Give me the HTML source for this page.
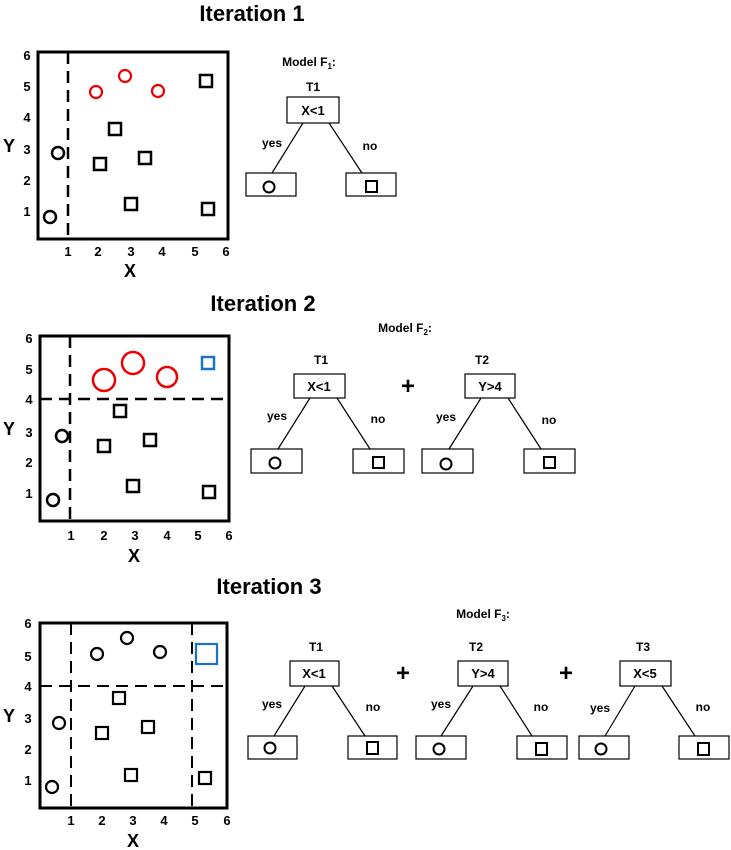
<!DOCTYPE html>
<html><head><meta charset="utf-8"><style>
html,body{margin:0;padding:0;background:#fff;}
svg{display:block;font-family:"Liberation Sans",sans-serif;}
.t{font-weight:bold;font-size:22px;text-anchor:middle;}
.tk{font-weight:bold;font-size:13px;text-anchor:middle;}
.ax{font-weight:bold;font-size:18px;text-anchor:middle;}
.lb{font-weight:bold;font-size:12px;text-anchor:middle;}
.pl{font-weight:bold;font-size:24px;text-anchor:middle;}
</style></head><body>
<svg width="731" height="850" viewBox="0 0 731 850" xmlns="http://www.w3.org/2000/svg">
<g fill="none" stroke="#000">
<!-- Iteration 1 plot -->
<rect x="38" y="52" width="190" height="187" stroke-width="3"/>
<line x1="68" y1="52" x2="68" y2="239" stroke-width="2.5" stroke-dasharray="12,7"/>
<g stroke="#e00" stroke-width="2.2"><circle cx="96" cy="92" r="6"/><circle cx="125" cy="76" r="6"/><circle cx="158" cy="91" r="6"/></g>
<g stroke-width="2.5"><rect x="200" y="75" width="12" height="12"/><rect x="109" y="123" width="12" height="12"/><rect x="94" y="158" width="12" height="12"/><rect x="139" y="152" width="12" height="12"/><rect x="125" y="198" width="12" height="12"/><rect x="202" y="203" width="12" height="12"/>
<circle cx="58" cy="153" r="6"/><circle cx="50" cy="217" r="6"/></g>
<!-- Iteration 1 tree -->
<g stroke-width="1.2"><rect x="287" y="97" width="52" height="26"/><rect x="246" y="173" width="50" height="23"/><rect x="346" y="173" width="50" height="23"/>
<line x1="303" y1="123" x2="272" y2="173"/><line x1="329" y1="123" x2="362" y2="173"/></g>
<g stroke-width="2"><circle cx="269" cy="187" r="5.5"/><rect x="366" y="181" width="11" height="11"/></g>

<!-- Iteration 2 plot -->
<rect x="40" y="336" width="189" height="185" stroke-width="3"/>
<line x1="70" y1="336" x2="70" y2="521" stroke-width="2.5" stroke-dasharray="12,7"/>
<line x1="40" y1="399" x2="229" y2="399" stroke-width="2.5" stroke-dasharray="12,7"/>
<g stroke="#e00" stroke-width="2.5"><circle cx="104" cy="380" r="11"/><circle cx="133" cy="363" r="11"/><circle cx="167" cy="377" r="10"/></g>
<rect x="202" y="357" width="12" height="12" stroke="#1a73c8" stroke-width="2.5"/>
<g stroke-width="2.5"><rect x="114" y="405" width="12" height="12"/><rect x="98" y="440" width="12" height="12"/><rect x="144" y="434" width="12" height="12"/><rect x="127" y="480" width="12" height="12"/><rect x="203" y="486" width="12" height="12"/>
<circle cx="62" cy="436" r="6"/><circle cx="53" cy="500" r="6"/></g>
<!-- Iteration 2 trees -->
<g stroke-width="1.2"><rect x="294" y="374" width="51" height="24"/><rect x="251" y="449" width="51" height="24"/><rect x="353" y="449" width="51" height="24"/>
<line x1="310" y1="398" x2="278" y2="449"/><line x1="337" y1="398" x2="370" y2="449"/>
<rect x="465" y="374" width="50" height="24"/><rect x="422" y="449" width="51" height="24"/><rect x="524" y="449" width="51" height="24"/>
<line x1="481" y1="398" x2="449" y2="449"/><line x1="508" y1="398" x2="541" y2="449"/></g>
<g stroke-width="2"><circle cx="275" cy="463" r="5.5"/><rect x="373" y="457" width="11" height="11"/><circle cx="446" cy="464" r="5.5"/><rect x="544" y="457" width="11" height="11"/></g>

<!-- Iteration 3 plot -->
<rect x="40" y="623" width="187" height="185" stroke-width="3"/>
<line x1="71" y1="623" x2="71" y2="808" stroke-width="2" stroke-dasharray="12,7"/>
<line x1="192" y1="623" x2="192" y2="808" stroke-width="2" stroke-dasharray="12,7"/>
<line x1="40" y1="686" x2="227" y2="686" stroke-width="2" stroke-dasharray="12,7"/>
<rect x="196" y="644" width="21" height="20" stroke="#1a73c8" stroke-width="2.2"/>
<g stroke-width="2.2"><circle cx="97" cy="654" r="6"/><circle cx="127" cy="638" r="6"/><circle cx="160" cy="652" r="6"/><circle cx="59" cy="723" r="6"/><circle cx="52" cy="787" r="6"/>
<rect x="113" y="692" width="12" height="12"/><rect x="96" y="727" width="12" height="12"/><rect x="142" y="721" width="12" height="12"/><rect x="125" y="769" width="12" height="12"/><rect x="199" y="772" width="12" height="12"/></g>
<!-- Iteration 3 trees -->
<g stroke-width="1.2">
<rect x="290" y="661" width="49" height="25"/><rect x="248" y="736" width="49" height="23"/><rect x="348" y="736" width="49" height="23"/>
<line x1="305" y1="686" x2="274" y2="736"/><line x1="332" y1="686" x2="365" y2="736"/>
<rect x="458" y="661" width="50" height="25"/><rect x="416" y="736" width="50" height="23"/><rect x="517" y="736" width="50" height="23"/>
<line x1="473" y1="686" x2="441" y2="736"/><line x1="500" y1="686" x2="532" y2="736"/>
<rect x="620" y="661" width="51" height="25"/><rect x="579" y="736" width="50" height="23"/><rect x="679" y="736" width="50" height="23"/>
<line x1="635" y1="686" x2="605" y2="736"/><line x1="662" y1="686" x2="695" y2="736"/></g>
<g stroke-width="2"><circle cx="270" cy="748" r="5.5"/><rect x="367" y="742" width="11" height="12"/><circle cx="439" cy="749" r="5.5"/><rect x="536" y="743" width="11" height="12"/><circle cx="601" cy="749" r="5.5"/><rect x="698" y="743" width="11" height="12"/></g>
</g>

<!-- Text -->
<text class="t" x="252" y="21">Iteration 1</text>
<text class="t" x="263" y="311">Iteration 2</text>
<text class="t" x="269" y="594">Iteration 3</text>

<g class="tk">
<text x="27" y="60">6</text><text x="27" y="91">5</text><text x="27" y="122">4</text><text x="27" y="154">3</text><text x="27" y="185">2</text><text x="27" y="216">1</text>
<text x="68" y="256">1</text><text x="98" y="256">2</text><text x="131" y="256">3</text><text x="162" y="256">4</text><text x="195" y="256">5</text><text x="226" y="256">6</text>
<text x="29" y="343">6</text><text x="29" y="374">5</text><text x="29" y="404">4</text><text x="29" y="437">3</text><text x="29" y="467">2</text><text x="29" y="498">1</text>
<text x="71" y="540">1</text><text x="104" y="540">2</text><text x="135" y="540">3</text><text x="167" y="540">4</text><text x="198" y="540">5</text><text x="229" y="540">6</text>
<text x="28" y="628">6</text><text x="28" y="661">5</text><text x="28" y="691">4</text><text x="28" y="723">3</text><text x="28" y="754">2</text><text x="28" y="785">1</text>
<text x="71" y="825">1</text><text x="102" y="825">2</text><text x="133" y="825">3</text><text x="164" y="825">4</text><text x="195" y="825">5</text><text x="227" y="825">6</text>
</g>
<g class="ax">
<text x="130" y="277">X</text><text x="9" y="152">Y</text>
<text x="134" y="562">X</text><text x="9" y="435">Y</text>
<text x="133" y="847">X</text><text x="9" y="722">Y</text>
</g>

<g class="lb">
<text x="309" y="66">Model F<tspan font-size="8" dy="3">1</tspan><tspan dy="-3">:</tspan></text>
<text x="313" y="91">T1</text>
<text x="313" y="115" font-size="13">X&lt;1</text>
<text x="272" y="147">yes</text><text x="370" y="150">no</text>

<text x="405" y="332">Model F<tspan font-size="8" dy="3">2</tspan><tspan dy="-3">:</tspan></text>
<text x="321" y="364">T1</text><text x="482" y="364">T2</text>
<text x="319" y="391" font-size="13">X&lt;1</text><text x="490" y="391" font-size="13">Y&gt;4</text>
<text x="277" y="420">yes</text><text x="378" y="423">no</text>
<text x="446" y="421">yes</text><text x="549" y="424">no</text>

<text x="483" y="618">Model F<tspan font-size="8" dy="3">3</tspan><tspan dy="-3">:</tspan></text>
<text x="316" y="651">T1</text><text x="476" y="651">T2</text><text x="643" y="651">T3</text>
<text x="314" y="678" font-size="13">X&lt;1</text><text x="483" y="678" font-size="13">Y&gt;4</text><text x="645" y="678" font-size="13">X&lt;5</text>
<text x="272" y="708">yes</text><text x="373" y="711">no</text>
<text x="441" y="708">yes</text><text x="541" y="711">no</text>
<text x="600" y="712">yes</text><text x="703" y="711">no</text>
</g>
<g class="pl">
<text x="408" y="394">+</text>
<text x="403" y="681">+</text><text x="566" y="681">+</text>
</g>
</svg>
</body></html>
